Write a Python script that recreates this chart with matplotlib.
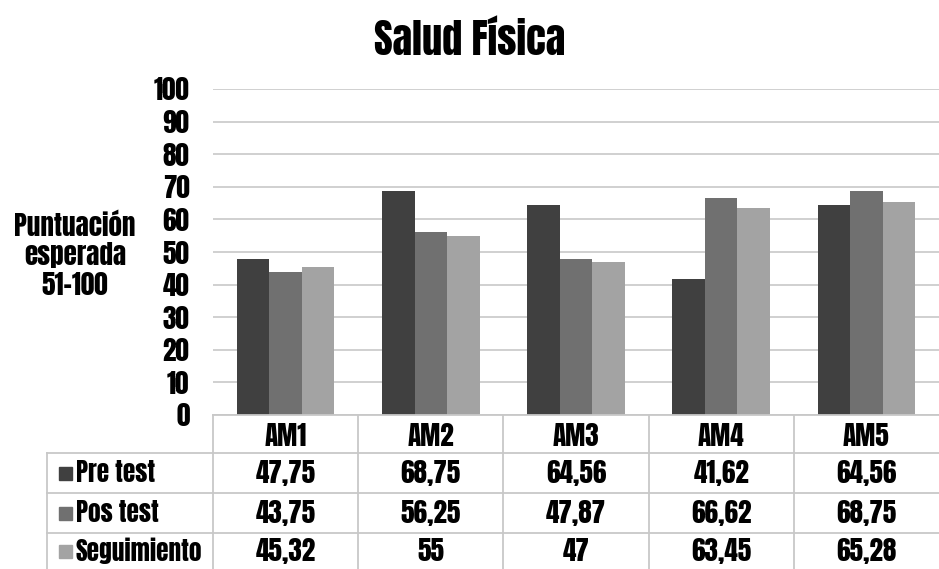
import numpy as np
import matplotlib
matplotlib.use("Agg")
import matplotlib.pyplot as plt
from matplotlib.lines import Line2D
from matplotlib.patches import Rectangle

plt.rcParams['font.family'] = ['Anton', 'DejaVu Sans']
plt.rcParams['font.weight'] = 'bold'
plt.rcParams['font.stretch'] = 'condensed'

# data
groups = ['AM1', 'AM2', 'AM3', 'AM4', 'AM5']
series = ['Pre test', 'Pos test', 'Seguimiento']
pre_test = [47.75, 68.75, 64.56, 41.62, 64.56]
pos_test = [43.75, 56.25, 47.87, 66.62, 68.75]
seguimiento = [45.32, 55, 47, 63.45, 65.28]
yticks = [0, 10, 20, 30, 40, 50, 60, 70, 80, 90, 100]

values = [pre_test, pos_test, seguimiento]
colors = ['#404040', '#707070', '#a3a3a3']

W, H = 939, 569
FS = 19.5
fig = plt.figure(figsize=(W / 100, H / 100), dpi=100)


def fx(px):
    return px / W


def fy(py):
    return 1 - py / H


# plot area (pixel box 213..939 x 89..415)
ax = fig.add_axes([fx(213), fy(415), fx(939) - fx(213), fy(89) - fy(415)])
x = np.arange(len(groups))
bw = 0.224
for i, (vals, c) in enumerate(zip(values, colors)):
    ax.bar(x + (i - 1) * bw, vals, bw, color=c, zorder=3)

ax.set_xlim(-0.5, len(groups) - 0.5)
ax.set_ylim(0, 100)
ax.set_yticks(yticks)
ax.set_yticklabels([str(t) for t in yticks], fontsize=FS)
ax.tick_params(axis='y', length=0, pad=17)
ax.set_xticks([])
ax.grid(axis='y', color='#c4c4c4', lw=1.1, zorder=0)
for s in ax.spines.values():
    s.set_visible(False)

fig.text(fx(470), fy(40), 'Salud Física', ha='center', va='center',
         fontsize=29)
fig.text(fx(75), fy(255), 'Puntuación\nesperada\n51-100', ha='center',
         va='center', multialignment='center', fontsize=FS,
         linespacing=1.15)

# data table under the bars
line_c = '#c8c8c8'
col_edges = [213 + k * 145.2 for k in range(6)]
row_edges = [415, 453, 493, 533, 569]


def hline(y, x0, x1):
    fig.add_artist(Line2D([fx(x0), fx(x1)], [fy(y), fy(y)], color=line_c,
                          lw=1.3, transform=fig.transFigure))


def vline(xp, y0, y1):
    fig.add_artist(Line2D([fx(xp), fx(xp)], [fy(y0), fy(y1)], color=line_c,
                          lw=1.3, transform=fig.transFigure))


hline(415, 213, 939)
for y in row_edges[1:4]:
    hline(y, 47, 939)
for xp in col_edges[:-1]:
    vline(xp, 415, 569)
vline(47, 453, 569)

for j, g in enumerate(groups):
    cx = (col_edges[j] + col_edges[j + 1]) / 2
    fig.text(fx(cx), fy(436), g, ha='center', va='center', fontsize=FS)

for i, (name, vals, c) in enumerate(zip(series, values, colors)):
    cy = (row_edges[i + 1] + row_edges[i + 2]) / 2
    fig.add_artist(Rectangle((fx(59), fy(cy + 7)), fx(13), fy(0) - fy(13),
                             color=c, transform=fig.transFigure))
    fig.text(fx(76), fy(cy), name, ha='left', va='center', fontsize=18.3)
    for j, v in enumerate(vals):
        cx = (col_edges[j] + col_edges[j + 1]) / 2
        fig.text(fx(cx), fy(cy), f'{v:g}'.replace('.', ','), ha='center',
                 va='center', fontsize=FS)

fig.savefig('out.png', dpi=100)
